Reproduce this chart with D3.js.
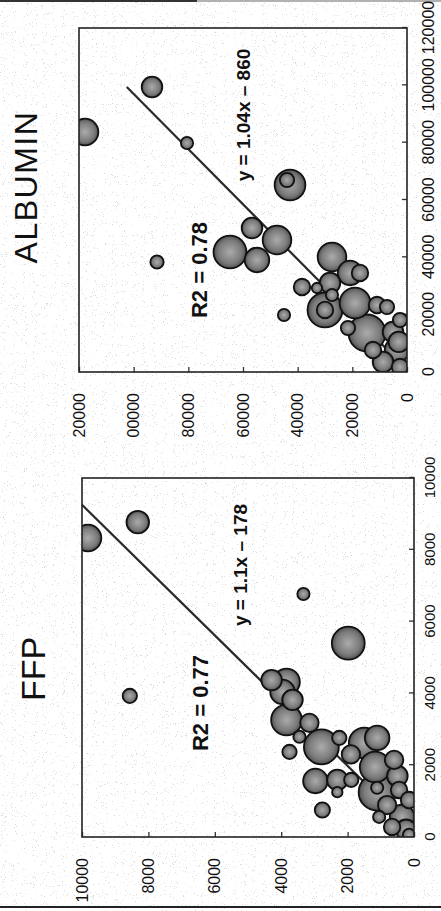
<!DOCTYPE html>
<html>
<head>
<meta charset="utf-8">
<script src="https://cdn.jsdelivr.net/npm/d3@7"></script>
<style>
  body { margin: 0; background: #fff; }
  svg { display: block; }
</style>
</head>
<body>
<div id="chart"></div>
<script>
// FFP panel: x, y and bubble size of each point
var ffpX = [8330, 8770, 6770, 5400, 3930, 750, 4370, 4320, 4040, 3820, 3260, 3180, 2790, 2510, 2760, 2370, 1560, 1590, 1250, 1590, 2620, 2760, 1950, 1250, 1370, 1310, 560, 200, 560, 280, 2150, 1030, 60, 890, 1700, 2300];
var ffpY = [9820, 8320, 3330, 1980, 8560, 2760, 4290, 3840, 3960, 3660, 3840, 3150, 3450, 2790, 2250, 3750, 2970, 2310, 2310, 1890, 1500, 1110, 1170, 1110, 1110, 450, 360, 240, 1050, 660, 600, 150, 150, 810, 500, 1900];
var ffpSize = [52, 37, 11, 79, 15, 17, 31, 52, 44, 31, 69, 25, 11, 89, 15, 15, 44, 31, 8, 15, 69, 44, 69, 100, 11, 20, 44, 31, 11, 20, 25, 20, 11, 25, 31, 25];
var ffpTicks = [0, 2000, 4000, 6000, 8000, 10000];

// ALBUMIN panel
var albX = [83720, 99420, 79880, 65230, 66980, 38370, 19880, 29650, 41860, 39070, 46050, 50230, 40120, 34540, 29300, 21630, 21630, 31050, 26860, 24070, 23370, 22670, 15350, 13600, 13950, 7670, 3490, 1740, 34540, 18140, 7670, 10500];
var albY = [117800, 93290, 80490, 42800, 43900, 91460, 45000, 38410, 64760, 54880, 47560, 56710, 27440, 20850, 32930, 30000, 30000, 28170, 27440, 19020, 10980, 7320, 21590, 14630, 5120, 3660, 8780, 2560, 17200, 2560, 12440, 3000];
var albSize = [52, 31, 11, 69, 15, 13, 11, 20, 79, 44, 60, 31, 60, 44, 8, 89, 20, 31, 11, 69, 20, 15, 15, 100, 31, 44, 31, 20, 20, 15, 20, 31];
var albTicks = [0, 20000, 40000, 60000, 80000, 100000, 120000];

// regression lines
var ffpSlope = 1.1, ffpIntercept = -178;
var albSlope = 1.04, albIntercept = -860;

var width = 441, height = 911;
var font = "'Liberation Sans', Arial, Helvetica, sans-serif";

var svg = d3.select("#chart").append("svg")
    .attr("width", width)
    .attr("height", height);
var defs = svg.append("defs");

// paper speckle of the scan
var speck = defs.append("filter").attr("id", "speck")
    .attr("x", 0).attr("y", 0).attr("width", "100%").attr("height", "100%");
speck.append("feTurbulence")
    .attr("type", "fractalNoise").attr("baseFrequency", 1.1)
    .attr("numOctaves", 2).attr("seed", 7);
speck.append("feColorMatrix").attr("type", "matrix")
    .attr("values", "0 0 0 0 0.5  0 0 0 0 0.5  0 0 0 0 0.5  12 0 0 0 -8.0");

svg.append("rect").attr("width", width).attr("height", height).attr("fill", "#fff");
svg.append("rect").attr("width", width).attr("height", height)
    .attr("filter", "url(#speck)").attr("opacity", 0.55);

// shaded balls
var grad = defs.append("radialGradient").attr("id", "ball")
    .attr("cx", "50%").attr("cy", "50%").attr("r", "55%");
grad.append("stop").attr("offset", "0%").attr("stop-color", "#ababab");
grad.append("stop").attr("offset", "65%").attr("stop-color", "#7a7a7a");
grad.append("stop").attr("offset", "100%").attr("stop-color", "#404040");

// page edges
svg.append("line").attr("x1", 0).attr("x2", 197).attr("y1", 1).attr("y2", 1)
    .attr("stroke", "#333").attr("stroke-width", 2);
svg.append("line").attr("x1", 197).attr("x2", 441).attr("y1", 1).attr("y2", 1)
    .attr("stroke", "#999").attr("stroke-width", 1.5);
svg.append("line").attr("x1", 0).attr("x2", 441).attr("y1", 907).attr("y2", 907)
    .attr("stroke", "#222").attr("stroke-width", 2);

// the figure is printed sideways: draw it upright, then turn it
var root = svg.append("g").attr("transform", "translate(0," + height + ") rotate(-90)");

var r = d3.scaleSqrt().domain([0, 100]).range([0, 18.5]);

function drawPanel(p) {
    var x = d3.scaleLinear().domain([0, p.max]).range([p.left, p.right]);
    var y = d3.scaleLinear().domain([0, p.max]).range([p.bottom, p.top]);

    var pg = root.append("g");
    if (p.cutAt != null) {
        defs.append("clipPath").attr("id", p.id + "-cut").append("rect")
            .attr("x", p.cutAt).attr("y", 0).attr("width", 911 - p.cutAt).attr("height", 441);
        pg.attr("clip-path", "url(#" + p.id + "-cut)");
    }

    defs.append("clipPath").attr("id", p.id + "-plot").append("rect")
        .attr("x", p.left).attr("y", p.top)
        .attr("width", p.right - p.left).attr("height", p.bottom - p.top);

    var xAxis = pg.append("g")
        .attr("transform", "translate(0," + p.bottom + ")")
        .call(d3.axisBottom(x).tickValues(p.ticks).tickFormat(d3.format("d"))
            .tickSize(-5).tickPadding(p.xPad));
    var yAxis = pg.append("g")
        .attr("transform", "translate(" + p.left + ",0)")
        .call(d3.axisLeft(y).tickValues(p.ticks).tickFormat(d3.format("d"))
            .tickSize(-5).tickPadding(21));
    [xAxis, yAxis].forEach(function(a) {
        a.attr("font-family", font).attr("font-size", 16);
        a.select(".domain").remove();
        a.selectAll("line").attr("stroke", "#333").attr("stroke-width", 1.3);
        a.selectAll("text").attr("fill", "#111");
    });
    xAxis.selectAll("text").attr("font-size", p.xFont);

    var plot = pg.append("g").attr("clip-path", "url(#" + p.id + "-plot)");

    var fit = [p.lineFrom, p.lineTo].map(function(v) {
        return [x(v), y(p.slope * v + p.intercept)];
    });
    plot.append("path")
        .attr("d", d3.line()(fit))
        .attr("stroke", "#2a2a2a")
        .attr("stroke-width", 2.2)
        .attr("fill", "none");

    var pts = p.xs.map(function(v, i) {
        return { x: v, y: p.ys[i], s: p.sizes[i] };
    }).sort(function(a, b) { return b.s - a.s; });

    plot.selectAll("circle")
        .data(pts)
        .enter()
        .append("circle")
        .attr("cx", function(d) { return x(d.x); })
        .attr("cy", function(d) { return y(d.y); })
        .attr("r", function(d) { return r(d.s); })
        .attr("fill", "url(#ball)")
        .attr("stroke", "#111")
        .attr("stroke-width", 1.8);

    pg.append("rect")
        .attr("x", p.left).attr("y", p.top)
        .attr("width", p.right - p.left).attr("height", p.bottom - p.top)
        .attr("fill", "none").attr("stroke", "#222").attr("stroke-width", 1.6);

    pg.append("text")
        .attr("x", p.titleX).attr("y", p.titleY)
        .attr("text-anchor", "middle")
        .attr("font-family", font).attr("font-size", p.titleSize)
        .attr("letter-spacing", p.titleSpacing)
        .attr("fill", "#111")
        .text(p.title);

    pg.append("text")
        .attr("x", p.r2X).attr("y", p.r2Y)
        .attr("text-anchor", "middle")
        .attr("font-family", font).attr("font-size", 22).attr("font-weight", "bold")
        .attr("fill", "#111")
        .text(p.r2);

    pg.append("text")
        .attr("x", p.eqX).attr("y", p.eqY)
        .attr("text-anchor", "middle")
        .attr("font-family", font).attr("font-size", 19).attr("font-weight", "bold")
        .attr("fill", "#111")
        .text(p.eq);
}

drawPanel({
    id: "ffp", title: "FFP", xs: ffpX, ys: ffpY, sizes: ffpSize, ticks: ffpTicks, max: 10000,
    slope: ffpSlope, intercept: ffpIntercept, lineFrom: 0, lineTo: 10000,
    left: 74, right: 433, top: 82, bottom: 414, xPad: 10, xFont: 15,
    titleX: 242, titleY: 45, titleSize: 34, titleSpacing: 0,
    r2: "R2 = 0.77", r2X: 208, r2Y: 208,
    eq: "y = 1.1x \u2013 178", eqX: 346, eqY: 247
});

drawPanel({
    id: "alb", title: "ALBUMIN", xs: albX, ys: albY, sizes: albSize, ticks: albTicks, max: 120000,
    slope: albSlope, intercept: albIntercept, lineFrom: 0, lineTo: 99400,
    left: 539, right: 883, top: 79, bottom: 407, xPad: 16, xFont: 16,
    titleX: 724, titleY: 37, titleSize: 32, titleSpacing: 1.5,
    r2: "R2 = 0.78", r2X: 641, r2Y: 207,
    eq: "y = 1.04x \u2013 860", eqX: 796, eqY: 250,
    cutAt: 474
});
</script>
</body>
</html>
